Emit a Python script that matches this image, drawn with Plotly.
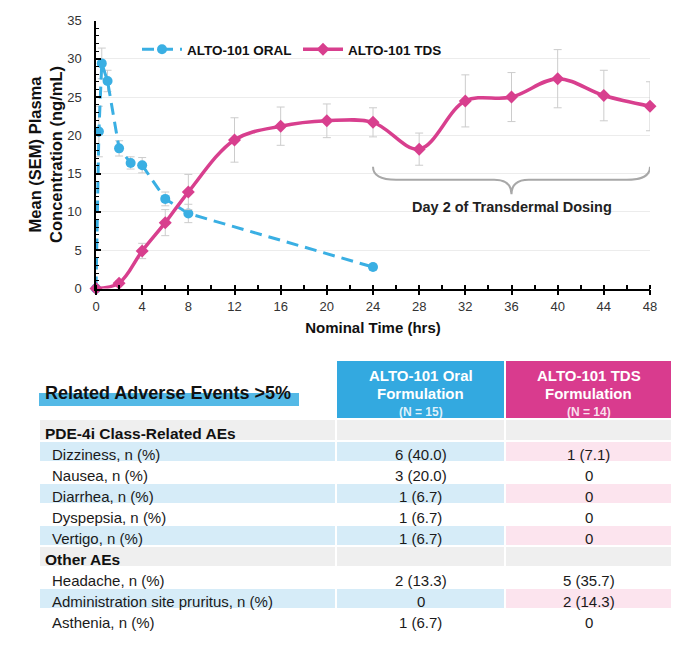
import plotly.graph_objects as go

W, H = 695, 645

# ---------------- data ----------------
oral_time = [0, 0.25, 0.5, 1, 2, 3, 4, 6, 8, 24]
oral_mean = [0, 20.5, 29.4, 27.1, 18.3, 16.4, 16.1, 11.7, 9.8, 2.8]
oral_sem = [0, 3.3, 2.0, 1.4, 1.0, 0.8, 1.0, 0.9, 1.2, 0.4]

tds_time = [0, 2, 4, 6, 8, 12, 16, 20, 24, 28, 32, 36, 40, 44, 48]
tds_mean = [0, 0.7, 4.9, 8.6, 12.6, 19.4, 21.2, 21.9, 21.7, 18.2, 24.5, 25.0, 27.4, 25.2, 23.8]
tds_sem = [0, 0.3, 1.0, 1.7, 2.3, 2.9, 2.5, 2.2, 1.9, 2.1, 3.4, 3.2, 3.8, 3.3, 3.2]

x_ticks = [0, 4, 8, 12, 16, 20, 24, 28, 32, 36, 40, 44, 48]
y_ticks = [0, 5, 10, 15, 20, 25, 30, 35]

ae_labels = ["PDE-4i Class-Related AEs", "Dizziness, n (%)", "Nausea, n (%)", "Diarrhea, n (%)",
             "Dyspepsia, n (%)", "Vertigo, n (%)", "Other AEs", "Headache, n (%)",
             "Administration site pruritus, n (%)", "Asthenia, n (%)"]
row_kind = ["section", "stripe", "plain", "stripe", "plain", "stripe", "section", "plain", "stripe", "plain"]
oral_vals = ["", "6 (40.0)", "3 (20.0)", "1 (6.7)", "1 (6.7)", "1 (6.7)", "", "2 (13.3)", "0", "1 (6.7)"]
tds_vals = ["", "1 (7.1)", "0", "0", "0", "0", "", "5 (35.7)", "2 (14.3)", "0"]

table_title = "Related Adverse Events >5%"
header_names = ["ALTO-101 Oral", "ALTO-101 TDS"]
header_n = ["(N = 15)", "(N = 14)"]

BLUE = "#3aafe3"
PINK = "#d83f8e"
HDR_BLUE = "#33a9e0"
HDR_PINK = "#d93b8e"
LBLUE = "#d6ecf8"
LPINK = "#fce4ee"
GREY = "#efefef"

FONT = "Liberation Sans, Arial, sans-serif"

fig = go.Figure()

fig.add_trace(go.Scatter(
    x=oral_time, y=oral_mean, name="ALTO-101 ORAL", mode="lines+markers",
    line=dict(color=BLUE, width=3, dash="12px,7px"),
    marker=dict(symbol="circle", size=10, color=BLUE),
    error_y=dict(type="data", array=oral_sem, color="#cccccc", thickness=1, width=4),
    cliponaxis=False,
))
fig.add_trace(go.Scatter(
    x=tds_time, y=tds_mean, name="ALTO-101 TDS", mode="lines+markers",
    line=dict(color=PINK, width=3.5, shape="spline", smoothing=1.0),
    marker=dict(symbol="diamond", size=10, color=PINK),
    error_y=dict(type="data", array=tds_sem, color="#cccccc", thickness=1, width=4),
    cliponaxis=False,
))

# ---------------- table (heatmap cells on hidden axes x2/y2, 1 unit = 1 px) ----------------
T_LEFT, T_RIGHT = 39, 672
T_TOP = 360
HDR_H = 59
ROW_H = 21
COLW = [297, 169, 167]
N = len(ae_labels)
T_H = HDR_H + ROW_H * N + 2
T_BOT = T_TOP + T_H

# colour codes: 0 grey, 1 light blue, 2 light pink, 3 white, 4 header blue, 5 header pink
palette = [GREY, LBLUE, LPINK, "#ffffff", HDR_BLUE, HDR_PINK]
colorscale = [[k / (len(palette) - 1), c] for k, c in enumerate(palette)]

def code(kind, col):
    if kind == "section":
        return 0
    if kind == "stripe":
        return 2 if col == 2 else 1
    return 3

z = [[None, 4, 5]] + [[code(k, c) for c in range(3)] for k in row_kind]
x_edges = [0, COLW[0], COLW[0] + COLW[1], sum(COLW)]
y_edges = [0, HDR_H] + [HDR_H + ROW_H * (i + 1) + 1 for i in range(N)]

fig.add_trace(go.Heatmap(
    z=z, x=x_edges, y=y_edges, xaxis="x2", yaxis="y2",
    colorscale=colorscale, zmin=0, zmax=len(palette) - 1, showscale=False,
    xgap=2, ygap=2, hoverinfo="skip", zsmooth=False,
))

col_centers = [COLW[0] + COLW[1] / 2, COLW[0] + COLW[1] + COLW[2] / 2]

for i, (lab, k) in enumerate(zip(ae_labels, row_kind)):
    yc = HDR_H + ROW_H * i + ROW_H / 2 + 3.5
    if k == "section":
        fig.add_annotation(xref="x2", yref="y2", x=4, y=yc, xanchor="left", yanchor="middle",
                           showarrow=False, text="<b>" + lab + "</b>",
                           font=dict(family=FONT, size=15.5, color="#111111"))
    else:
        fig.add_annotation(xref="x2", yref="y2", x=11, y=yc, xanchor="left", yanchor="middle",
                           showarrow=False, text=lab,
                           font=dict(family=FONT, size=15, color="#1a1a1a"))
        for xc, v in zip(col_centers, [oral_vals[i], tds_vals[i]]):
            fig.add_annotation(xref="x2", yref="y2", x=xc, y=yc, xanchor="center", yanchor="middle",
                               showarrow=False, text=v,
                               font=dict(family=FONT, size=15, color="#1a1a1a"))

for xc, nm, nn in zip(col_centers, header_names, header_n):
    fig.add_annotation(xref="x2", yref="y2", x=xc, y=15.5, showarrow=False,
                       text="<b>" + nm + "</b>", font=dict(family=FONT, size=15, color="white"))
    fig.add_annotation(xref="x2", yref="y2", x=xc, y=33.5, showarrow=False,
                       text="<b>Formulation</b>", font=dict(family=FONT, size=15, color="white"))
    fig.add_annotation(xref="x2", yref="y2", x=xc, y=52, showarrow=False,
                       text="<b>" + nn + "</b>",
                       font=dict(family=FONT, size=12, color="rgba(255,255,255,0.85)"))

# title with highlight bar
fig.add_shape(type="rect", xref="x2", yref="y2", x0=0, x1=260, y0=33, y1=46,
              fillcolor="#54b9e6", line=dict(width=0), layer="below")
fig.add_annotation(xref="x2", yref="y2", x=4, y=33, xanchor="left", yanchor="middle",
                   showarrow=False, text="<b>" + table_title + "</b>",
                   font=dict(family=FONT, size=18, color="#111111"))

# ---------------- brace annotation ----------------
bx0, bx1, bmid = 24, 48, 36
by_top, by_line, by_tip = 15.9, 14.2, 12.3
brace = (f"M {bx0},{by_top} Q {bx0},{by_line} {bx0 + 2},{by_line} "
         f"L {bmid - 1.5},{by_line} Q {bmid},{by_line} {bmid},{by_tip} "
         f"Q {bmid},{by_line} {bmid + 1.5},{by_line} "
         f"L {bx1 - 2},{by_line} Q {bx1},{by_line} {bx1},{by_top}")
fig.add_shape(type="path", xref="x", yref="y", path=brace,
              line=dict(color="#a8a8a8", width=2))
fig.add_annotation(xref="x", yref="y", x=bmid, y=10.6, showarrow=False,
                   text="<b>Day 2 of Transdermal Dosing</b>",
                   font=dict(family=FONT, size=14.5, color="#222222"))

fig.update_layout(
    width=W, height=H, margin=dict(l=0, r=0, t=0, b=0, autoexpand=False),
    paper_bgcolor="white", plot_bgcolor="white",
    font=dict(family=FONT, color="#222222"),
    showlegend=True,
    legend=dict(orientation="h", x=137 / W, y=1 - 34 / H, xanchor="left", yanchor="top",
                font=dict(family=FONT, size=13.5, color="#111111", weight="bold"),
                bgcolor="rgba(0,0,0,0)", itemwidth=40, tracegroupgap=0,
                entrywidth=106, entrywidthmode="pixels"),
    xaxis=dict(
        domain=[96 / W, 650 / W], range=[0, 48], automargin=False,
        tickmode="array", tickvals=x_ticks, ticktext=[str(v) for v in x_ticks],
        showgrid=False, zeroline=False,
        showline=True, linecolor="black", linewidth=1.5,
        ticks="outside", ticklen=5, tickcolor="black", tickwidth=1.5,
        minor=dict(dtick=2, ticks="inside", ticklen=4, tickcolor="black", tickwidth=1.5),
        tickfont=dict(family=FONT, size=13, color="#333333"),
        title=dict(text="<b>Nominal Time (hrs)</b>", font=dict(family=FONT, size=15, color="#111111"),
                   standoff=10),
    ),
    yaxis=dict(
        domain=[1 - 288.5 / H, 1 - 20.5 / H], range=[0, 35], automargin=False,
        tickmode="array", tickvals=y_ticks, ticktext=[str(v) for v in y_ticks],
        showgrid=True, gridcolor="#ececec", gridwidth=1, zeroline=False,
        showline=True, linecolor="black", linewidth=1.5,
        ticks="inside", ticklen=5, tickcolor="black", tickwidth=1.5,
        ticklabelstandoff=10,
        minor=dict(dtick=1, ticks="inside", ticklen=3, tickcolor="black", tickwidth=1, showgrid=False),
        tickfont=dict(family=FONT, size=13, color="#333333"),
        title=dict(text="<b>Mean (SEM) Plasma<br>Concentration (ng/mL)</b>",
                   font=dict(family=FONT, size=16.5, color="#111111"), standoff=0),
    ),
    xaxis2=dict(domain=[T_LEFT / W, T_RIGHT / W], range=[0, T_RIGHT - T_LEFT],
                visible=False, fixedrange=True, automargin=False),
    yaxis2=dict(domain=[1 - T_BOT / H, 1 - T_TOP / H], range=[T_H, 0],
                visible=False, fixedrange=True, automargin=False),
)

fig.write_html("out.html")
